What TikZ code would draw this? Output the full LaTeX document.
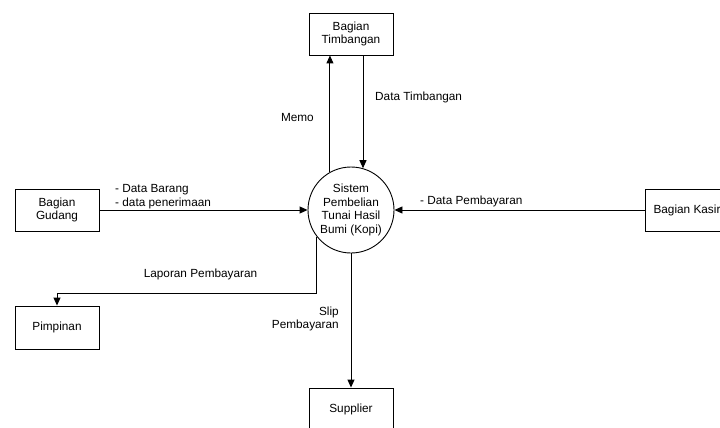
\documentclass[tikz,border=0pt]{standalone}
\usepackage{fontspec}
\setmainfont{Liberation Sans}
\usetikzlibrary{arrows.meta}
\begin{document}
\begin{tikzpicture}[x=1pt,y=-1pt,
  font=\fontsize{11.8}{13.7}\selectfont,
  entity/.style={draw,line width=0.9pt,minimum width=84pt,minimum height=42pt,inner sep=0pt,align=center},
  proc/.style={draw,circle,line width=0.9pt,minimum size=86pt,inner sep=0pt,align=center},
  flow/.style={line width=0.9pt,-{Triangle[length=8pt,width=7pt]}},
  lbl/.style={inner sep=0pt}]
\useasboundingbox (0,0) rectangle (720,428);
\node[entity] (tim) at (351,34) {Bagian\\Timbangan};
\node[entity] (gud) at (57,210) {Bagian\\Gudang};
\node[entity] (kas) at (687,210) {Bagian Kasir};
\node[entity,minimum height=43pt] (pim) at (57,327.5) {Pimpinan};
\node[entity] (sup) at (351,409) {Supplier};
\node[proc] (sys) at (351,210) {Sistem\\Pembelian\\Tunai Hasil\\Bumi (Kopi)};
\coordinate (lp) at (57,293);
\draw[flow] (sys.119) -- (sys.119 |- tim.south);
\draw[flow] (tim.south -| sys.74) -- (sys.74);
\draw[flow] (gud.east) -- (sys.west);
\draw[flow] (kas.west) -- (sys.east);
\draw[flow] (sys.218) |- (lp) -- (pim.north);
\draw[flow] (sys.south) -- (sup.north);
\node[lbl,anchor=west] (l1) at (375,97) {Data Timbangan};
\node[lbl,anchor=east] (l2) at (314,117) {Memo};
\node[lbl,anchor=west,align=left] (l3) at (115,197) {- Data Barang\\- data penerimaan};
\node[lbl,anchor=west] (l4) at (420,201.5) {- Data Pembayaran};
\node[lbl] (l5) at (200.5,274) {Laporan Pembayaran};
\node[lbl,anchor=east,align=right] (l6) at (339,319) {Slip\\Pembayaran};
\end{tikzpicture}
\end{document}
